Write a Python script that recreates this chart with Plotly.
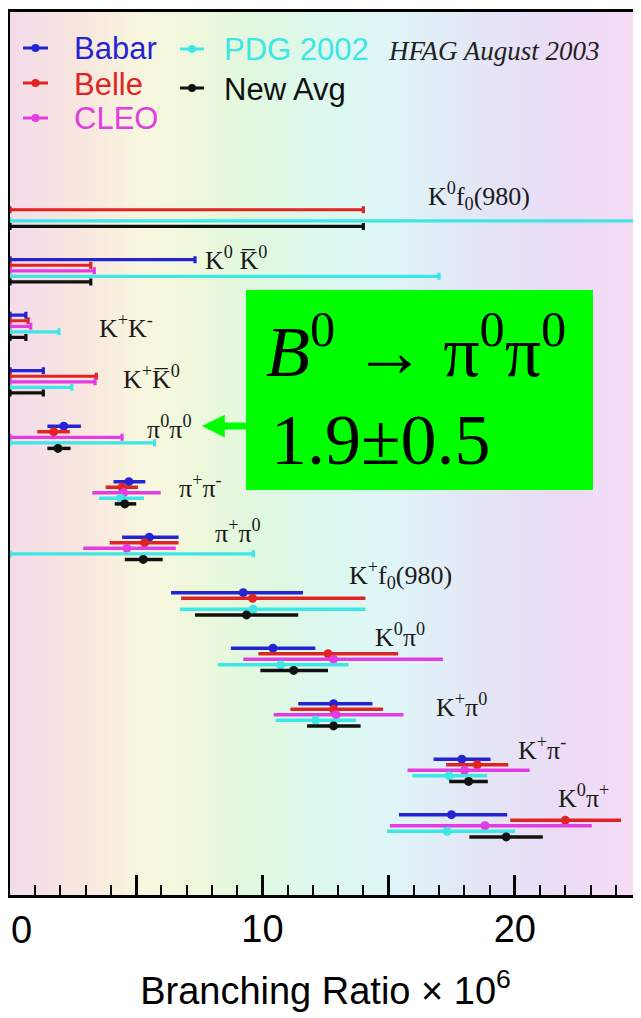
import numpy as np
import plotly.graph_objects as go

# ---------------- data ----------------
decays = [
    "K<sup>0</sup>f<sub>0</sub>(980)",
    "K<sup>0</sup> K\u0305<sup>0</sup>",
    "K<sup>+</sup>K<sup>-</sup>",
    "K<sup>+</sup>K\u0305<sup>0</sup>",
    "π<sup>0</sup>π<sup>0</sup>",
    "π<sup>+</sup>π<sup>-</sup>",
    "π<sup>+</sup>π<sup>0</sup>",
    "K<sup>+</sup>f<sub>0</sub>(980)",
    "K<sup>0</sup>π<sup>0</sup>",
    "K<sup>+</sup>π<sup>0</sup>",
    "K<sup>+</sup>π<sup>-</sup>",
    "K<sup>0</sup>π<sup>+</sup>",
]
experiments = ["Babar", "Belle", "CLEO", "PDG 2002", "New Avg"]
N = None

babar_val   = [N, N, N, N, 2.13, 4.71, 5.52, 9.24, 10.42, 12.82, 17.90, 17.49]
babar_plus  = [N, N, N, N, 0.68, 0.65, 1.16, 2.37, 1.68, 1.54, 1.14, 2.21]
babar_minus = [N, N, N, N, 0.65, 0.61, 1.08, 2.86, 1.67, 1.40, 1.12, 2.08]
babar_ul    = [N, 7.33, 0.63, 1.32, N, N, N, N, N, N, N, N]

belle_val   = [N, N, N, N, 1.73, 4.44, 5.33, 9.61, 12.60, 12.82, 18.51, 22.00]
belle_plus  = [N, N, N, N, 0.64, 0.63, 1.35, 4.47, 2.78, 1.96, 1.23, 2.21]
belle_minus = [N, N, N, N, 0.65, 0.65, 1.38, 2.83, 2.76, 1.71, 1.23, 2.18]
belle_ul    = [14.0, 3.2, 0.72, 3.42, N, N, N, N, N, N, N, N]

cleo_val    = [N, N, N, N, N, 4.50, 4.63, N, 12.82, 12.92, 18.01, 18.82]
cleo_plus   = [N, N, N, N, N, 1.47, 1.94, N, 4.33, 2.67, 2.58, 4.23]
cleo_minus  = [N, N, N, N, N, 1.24, 1.73, N, 3.58, 2.47, 2.26, 3.77]
cleo_ul     = [N, 3.34, 0.82, 3.37, 4.44, N, N, N, N, N, N, N]

pdg_val     = [N, N, N, N, N, 4.39, N, 9.64, 10.72, 12.11, 17.40, 17.32]
pdg_plus    = [N, N, N, N, N, 0.92, N, 4.44, 2.69, 1.60, 1.50, 2.69]
pdg_minus   = [N, N, N, N, N, 0.86, N, 2.91, 2.48, 1.58, 1.46, 2.38]
pdg_ul      = [30.0, 17.0, 1.94, 2.45, 5.73, N, 9.64, N, N, N, N, N]

avg_val     = [N, N, N, N, 1.90, 4.55, 5.28, 9.37, 11.24, 12.82, 18.17, 19.66]
avg_plus    = [N, N, N, N, 0.50, 0.45, 0.77, 2.05, 1.36, 1.07, 0.76, 1.45]
avg_minus   = [N, N, N, N, 0.42, 0.40, 0.73, 2.04, 1.32, 1.05, 0.77, 1.46]
avg_ul      = [14.0, 3.2, 0.63, 1.32, N, N, N, N, N, N, N, N]

x_tick_vals = [0, 5, 10, 15, 20, 25]
# the "0" label is drawn as an annotation (left-aligned) so it is not clipped
x_tick_text = ["", "", "10", "", "20", ""]
x_zero_label = "0"

highlight_title = "<i>B</i><sup>0</sup> \u2192 π<sup>0</sup>π<sup>0</sup>"
highlight_value = "1.9±0.5"

# ---------------- styles ----------------
COLORS = ["#2424d2", "#e02424", "#e23ce2", "#3ee6e6", "#111111"]
SANS = "Liberation Sans, Arial, sans-serif"
SERIF = "Liberation Serif, Times New Roman, serif"

PAGE_OFF = 8            # default body margin of the html page
W, H = 641 - PAGE_OFF, 1018 - PAGE_OFF
# plot area in window pixels
L, R, T, B = 10, 641, 12, 895
SLOT = 0.1  # vertical offset between experiments inside a group
Y_RANGE = [12.247, -3.663]


def px(x):
    return (x - L) / (R - L)


def py(y):
    return (B - y) / (B - T)


# label placement: (left x in data units, vertical offset in group units)
LABEL_POS = [
    (16.5, -0.35), (7.65, -0.22), (3.45, 0.0), (4.4, -0.07),
    (5.35, -0.18), (6.6, -0.11), (8.05, -0.31), (13.35, -0.52),
    (14.4, -0.43), (16.8, -0.16), (20.05, -0.40), (21.65, -0.52),
]

BG_STOPS = [
    [0.00, "#f3dcea"], [0.11, "#f9e6df"], [0.21, "#f8f6de"],
    [0.30, "#eef8dc"], [0.39, "#dff8df"], [0.49, "#dcf8ee"],
    [0.60, "#dff6f8"], [0.73, "#e3e7f6"], [0.87, "#ebdcf6"],
    [1.00, "#f6dcf7"],
]

fig = go.Figure()

# background gradient
bg_x = np.linspace(0, 25, 126)
fig.add_trace(go.Heatmap(
    x=bg_x, y=[-5, 14], z=[bg_x, bg_x], zmin=0, zmax=25,
    colorscale=BG_STOPS, zsmooth="best", showscale=False, hoverinfo="skip",
))

series = [
    (babar_val, babar_plus, babar_minus, babar_ul),
    (belle_val, belle_plus, belle_minus, belle_ul),
    (cleo_val, cleo_plus, cleo_minus, cleo_ul),
    (pdg_val, pdg_plus, pdg_minus, pdg_ul),
    (avg_val, avg_plus, avg_minus, avg_ul),
]

for i, (name, (val, plus, minus, ul)) in enumerate(zip(experiments, series)):
    off = (i - 2) * SLOT
    col = COLORS[i]
    # upper limits: line from 0 to the limit
    idx = [g for g, u in enumerate(ul) if u is not None]
    if idx:
        fig.add_trace(go.Scatter(
            x=[0.0 for _ in idx], y=[g + off for g in idx], mode="markers",
            marker=dict(size=1, color=col), name=name, showlegend=False,
            error_x=dict(type="data", symmetric=False,
                         array=[ul[g] for g in idx], arrayminus=[0 for _ in idx],
                         color=col, thickness=3.2, width=3.5),
            hoverinfo="skip",
        ))
    idx = [g for g, v in enumerate(val) if v is not None]
    fig.add_trace(go.Scatter(
        x=[val[g] for g in idx], y=[g + off for g in idx], mode="markers",
        marker=dict(size=9, color=col), name=name, showlegend=False,
        error_x=dict(type="data", symmetric=False,
                     array=[plus[g] for g in idx], arrayminus=[minus[g] for g in idx],
                     color=col, thickness=3.5, width=0),
    ))

annotations = []
for g, (lab, (lx, dy)) in enumerate(zip(decays, LABEL_POS)):
    annotations.append(dict(
        x=lx, y=g + dy, xref="x", yref="y", text=lab, showarrow=False,
        xanchor="left", yanchor="middle",
        font=dict(family=SERIF, size=26, color="#1a1a1a"),
    ))

# legend (drawn by hand to match the two-column layout)
shapes = []
legend_pos = [(23, 48, 48, 72), (23, 48, 83, 72), (23, 48, 118, 72),
              (180, 204, 49, 222), (180, 204, 88, 222)]
for i, (x0, x1, yy, tx) in enumerate(legend_pos):
    col = COLORS[i]
    shapes.append(dict(type="line", xref="paper", yref="paper",
                       x0=px(x0), x1=px(x1), y0=py(yy), y1=py(yy),
                       line=dict(color=col, width=3)))
    xc = (x0 + x1) / 2
    shapes.append(dict(type="circle", xref="paper", yref="paper",
                       x0=px(xc - 4), x1=px(xc + 4), y0=py(yy + 4), y1=py(yy - 4),
                       fillcolor=col, line=dict(color=col, width=0)))
    annotations.append(dict(x=px(tx), y=py(yy + 1), xref="paper", yref="paper",
                            text=experiments[i], showarrow=False,
                            xanchor="left", yanchor="middle",
                            font=dict(family=SANS, size=31, color=col)))

annotations.append(dict(x=px(386), y=py(51), xref="paper", yref="paper",
                        text="<i>HFAG August 2003</i>", showarrow=False,
                        xanchor="left", yanchor="middle",
                        font=dict(family=SERIF, size=27, color="#222222")))

# "0" tick label at the left edge
annotations.append(dict(x=px(9), y=py(930), xref="paper", yref="paper",
                        text=x_zero_label, showarrow=False,
                        xanchor="left", yanchor="middle",
                        font=dict(family=SANS, size=38, color="black")))

# green highlight box
shapes.append(dict(type="rect", xref="paper", yref="paper", layer="above",
                   x0=px(246), x1=px(593), y0=py(490), y1=py(290),
                   fillcolor="#00ff00", line=dict(width=0)))
annotations.append(dict(x=px(264), y=py(346), xref="paper", yref="paper",
                        text=highlight_title, showarrow=False,
                        xanchor="left", yanchor="middle",
                        font=dict(family=SERIF, size=72, color="black")))
annotations.append(dict(x=px(269), y=py(440), xref="paper", yref="paper",
                        text=highlight_value, showarrow=False,
                        xanchor="left", yanchor="middle",
                        font=dict(family=SERIF, size=72, color="black")))
annotations.append(dict(x=px(202), y=py(426), xref="paper", yref="paper",
                        text="", showarrow=True, ax=52, ay=0,
                        arrowhead=2, arrowsize=0.65, arrowwidth=7,
                        arrowcolor="#00ff00", standoff=0))

fig.update_layout(
    width=W, height=H,
    margin=dict(l=L - PAGE_OFF, r=(641 - R), t=T - PAGE_OFF,
                b=H - (B - PAGE_OFF), autoexpand=False),
    paper_bgcolor="white", plot_bgcolor="white",
    showlegend=False,
    shapes=shapes, annotations=annotations,
    xaxis=dict(
        range=[0, 25], showgrid=False, zeroline=False, automargin=False,
        showline=True, linewidth=3, linecolor="black", mirror=True,
        tickvals=x_tick_vals, ticktext=x_tick_text,
        ticks="inside", ticklen=20, tickwidth=2.5, tickcolor="black",
        minor=dict(dtick=1, ticks="inside", ticklen=10, tickwidth=2, tickcolor="black"),
        tickfont=dict(family=SANS, size=38, color="black"),
        ticklabeloverflow="allow", ticklabelstandoff=-2,
        title=dict(text="Branching Ratio \u00d7 10<sup>6</sup>",
                   font=dict(family=SANS, size=38, color="black"), standoff=29),
    ),
    yaxis=dict(
        range=Y_RANGE, showgrid=False, zeroline=False, showticklabels=False,
        automargin=False,
        ticks="", showline=True, linewidth=3, linecolor="black",
    ),
)

fig.write_html("out.html")
